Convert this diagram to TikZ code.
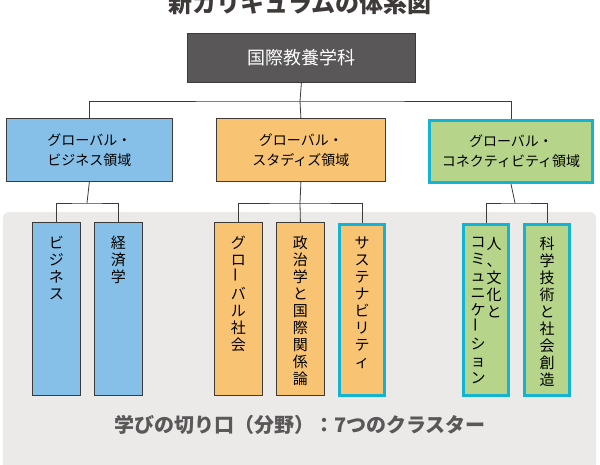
\documentclass[tikz,border=0pt]{standalone}
\usepackage{fontspec}
\setmainfont{Noto Sans CJK JP}
\usetikzlibrary{positioning}
\definecolor{headgray}{HTML}{595757}
\definecolor{bizblue}{HTML}{86C0E8}
\definecolor{studorange}{HTML}{F8C474}
\definecolor{congreen}{HTML}{B6D48A}
\definecolor{hicyan}{HTML}{14B3D3}
\definecolor{bggray}{HTML}{ECEAE8}
\definecolor{linegray}{HTML}{3E3A39}
\begin{document}
\begin{tikzpicture}[x=1pt, y=-1pt, font=\fontsize{14}{20}\selectfont,
  box/.style={draw=linegray, line width=0.8pt, anchor=north west, inner sep=0pt},
  leaf/.style={box, minimum width=48pt, minimum height=173pt},
  hilite/.style={draw=hicyan, line width=3pt},
  vtext/.style={align=center, anchor=north, inner sep=0pt, font=\fontsize{15}{17}\selectfont},
  wire/.style={draw=linegray, line width=0.8pt}]

  \useasboundingbox (0,0) rectangle (600,464);

  \node[font=\fontsize{24}{26}\selectfont\bfseries, text=linegray] (title) at (300,3) {新カリキュラムの体系図};

  \fill[bggray, rounded corners=6pt] (3,212) rectangle (596,470);

  % top
  \node[box, fill=headgray, minimum width=228pt, minimum height=49pt, text=white,
        font=\fontsize{18}{20}\selectfont] (dept) at (187,33) {国際教養学科};

  % fields
  \node[box, fill=bizblue, minimum width=166pt, minimum height=63pt, align=center] (biz) at (6,118) {グローバル・\\ビジネス領域};
  \node[box, fill=studorange, minimum width=169pt, minimum height=63pt, align=center] (stud) at (216,118) {グローバル・\\スタディズ領域};
  \node[box, hilite, fill=congreen, minimum width=163pt, minimum height=62pt, align=center] (conn) at (428,119) {グローバル・\\コネクティビティ領域};

  % clusters
  \node[leaf, fill=bizblue] (c1) at (32,222) {};
  \node[leaf, fill=bizblue] (c2) at (94,222) {};
  \node[leaf, fill=studorange] (c3) at (214,222) {};
  \node[leaf, fill=studorange] (c4) at (276,222) {};
  \node[leaf, hilite, fill=studorange, minimum width=45pt, minimum height=171pt] (c5) at (338,223) {};
  \node[leaf, hilite, fill=congreen, minimum width=45pt, minimum height=171pt] (c6) at (462,223) {};
  \node[leaf, hilite, fill=congreen, minimum width=45pt, minimum height=171pt] (c7) at (523,223) {};

  \node[vtext] at ([yshift=-14pt]c1.north) {ビ\\ジ\\ネ\\ス};
  \node[vtext] at ([yshift=-14pt]c2.north) {経\\済\\学};
  \node[vtext] at ([yshift=-14pt]c3.north) {グ\\ロ\\\rotatebox{90}{ー}\\バ\\ル\\社\\会};
  \node[vtext] at ([yshift=-14pt]c4.north) {政\\治\\学\\と\\国\\際\\関\\係\\論};
  \node[vtext] at ([yshift=-14pt]c5.north) {サ\\ス\\テ\\ナ\\ビ\\リ\\テ\\ィ};
  \node[vtext] at ([xshift=8pt,yshift=-14pt]c6.north) {人\\、\\文\\化\\と};
  \node[vtext] at ([xshift=-8pt,yshift=-14pt]c6.north) {コ\\ミ\\ュ\\ニ\\ケ\\\rotatebox{90}{ー}\\シ\\ョ\\ン};
  \node[vtext] at ([yshift=-14pt]c7.north) {科\\学\\技\\術\\と\\社\\会\\創\\造};

  \node[text=headgray, font=\fontsize{20}{22}\selectfont\bfseries] (label) at (300,425)
    {学びの切り口（分野）：7つのクラスター};

  % wires
  \draw[wire] (dept.south) -- (300,101) coordinate (hub);
  \draw[wire] (biz.north) |- (hub) -| (conn.north);
  \draw[wire] (hub) -- (stud.north);
  \draw[wire] (biz.south) -- (87,203) coordinate (b);
  \draw[wire] (c1.north) |- (b) -| (c2.north);
  \draw[wire] (stud.south) -- (300,203) coordinate (s);
  \draw[wire] (c3.north) |- (s) -| (c5.north);
  \draw[wire] (s) -- (c4.north);
  \draw[wire] (conn.south) -- (515,203) coordinate (g);
  \draw[wire] (c6.north) |- (g) -| (c7.north);
\end{tikzpicture}
\end{document}
